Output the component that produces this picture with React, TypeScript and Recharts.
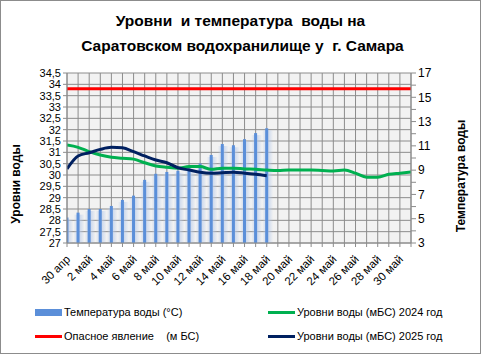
import { ComposedChart, Bar, Line, XAxis, YAxis, CartesianGrid } from 'recharts';

const dates = [
  '30 апр', '1 май', '2 май', '3 май', '4 май', '5 май', '6 май', '7 май',
  '8 май', '9 май', '10 май', '11 май', '12 май', '13 май', '14 май', '15 май',
  '16 май', '17 май', '18 май', '19 май', '20 май', '21 май', '22 май', '23 май',
  '24 май', '25 май', '26 май', '27 май', '28 май', '29 май', '30 май', '31 май',
];

// температура воды, °С (правая ось)
const temperature = [
  5.1, 5.5, 5.8, 5.8, 6.05, 6.55, 6.9, 8.2, 8.7, 8.85, 8.95, 9.15, 9.55, 10.25,
  11.15, 11.05, 11.55, 12.05, 12.45,
];

// уровни воды, мБС
const levels2024 = [
  31.32, 31.22, 31.03, 30.88, 30.78, 30.74, 30.7, 30.54, 30.4, 30.34, 30.3,
  30.37, 30.37, 30.25, 30.3, 30.3, 30.27, 30.25, 30.22, 30.2, 30.22, 30.22,
  30.22, 30.2, 30.18, 30.22, 30.08, 29.9, 29.9, 30.03, 30.08, 30.13,
];
const levels2025 = [
  30.27, 30.84, 30.98, 31.13, 31.22, 31.2, 31.03, 30.84, 30.66, 30.54, 30.32,
  30.22, 30.12, 30.08, 30.1, 30.12, 30.08, 30.03, 29.97,
];
const dangerLevel = 33.8;

const levelTicks = [27, 27.5, 28, 28.5, 29, 29.5, 30, 30.5, 31, 31.5, 32, 32.5, 33, 33.5, 34, 34.5];
const tempTicks = [3, 4, 5, 6, 7, 8, 9, 10, 11, 12, 13, 14, 15, 16, 17];

const data = dates.map((date, i) => ({
  i,
  date,
  temp: temperature[i] ?? null,
  l2024: levels2024[i] ?? null,
  l2025: levels2025[i] ?? null,
  danger: dangerLevel,
}));

const FONT = '"Liberation Sans", Arial, sans-serif';

function DateTick({ x, y, payload }: any) {
  if (payload.value % 2 !== 0) return <g />;
  const tx = x + 4;
  const ty = y + 11;
  return (
    <text x={tx} y={ty} transform={`rotate(-45 ${tx} ${ty})`} textAnchor="end" fontSize={11.5} fill="#000" fontFamily={FONT}>
      {dates[payload.value]}
    </text>
  );
}

function GlowBar(props: any) {
  const { x, y, width, height } = props;
  if (!height || height <= 0) return <g />;
  return (
    <g>
      <rect x={x - 3} y={y + 2} width={width + 8} height={height - 2} fill="url(#barGlow)" />
      <rect x={x} y={y} width={width} height={height} fill="#5b8fd9" />
    </g>
  );
}

function LegendItem({ color, bar, text }: { color: string; bar?: boolean; text: string }) {
  return (
    <div style={{ display: 'flex', alignItems: 'center' }}>
      <div style={{ width: 27, height: bar ? 7 : 3, background: color, marginRight: 2 }} />
      <span style={{ whiteSpace: 'pre' }}>{text}</span>
    </div>
  );
}

export default function App() {
  return (
    <div style={{ position: 'absolute', left: 0, top: 0, width: 481, height: 354, background: '#fff', fontFamily: FONT }}>
      <div style={{ position: 'absolute', left: 0, top: 8, width: 481, textAlign: 'center', fontWeight: 'bold', fontSize: 15.5, lineHeight: '25px' }}>
        <div style={{ whiteSpace: 'pre' }}>{'Уровни  и температура  воды на'}</div>
        <div style={{ whiteSpace: 'pre', paddingLeft: 4 }}>{'Саратовском водохранилище у  г. Самара'}</div>
      </div>

      <ComposedChart
        width={481}
        height={354}
        data={data}
        margin={{ top: 73, right: 0, left: 0, bottom: 51 }}
        style={{ position: 'absolute', left: 0, top: 0 }}
      >
        <defs>
          <linearGradient id="barGlow" x1="0" y1="0" x2="1" y2="0">
            <stop offset="0%" stopColor="#b8cbea" stopOpacity={0} />
            <stop offset="45%" stopColor="#b8cbea" stopOpacity={0.8} />
            <stop offset="100%" stopColor="#b8cbea" stopOpacity={0} />
          </linearGradient>
        </defs>
        <CartesianGrid yAxisId="l" stroke="#8c8c8c" fill="#f2f2f2" strokeWidth={1} />
        <XAxis
          dataKey="i"
          type="number"
          domain={[0, 31]}
          ticks={dates.map((_, i) => i)}
          interval={0}
          height={60}
          tick={<DateTick />}
          tickSize={4}
          stroke="#8c8c8c"
          allowDataOverflow
        />
        <YAxis
          yAxisId="l"
          domain={[27, 34.5]}
          ticks={levelTicks}
          interval={0}
          width={67}
          tickSize={4}
          stroke="#8c8c8c"
          tick={{ fill: '#000', fontSize: 11, fontFamily: FONT }}
          tickFormatter={(v: number) => String(v).replace('.', ',')}
        />
        <YAxis
          yAxisId="t"
          orientation="right"
          domain={[3, 17]}
          ticks={tempTicks}
          interval={0}
          width={70}
          tickSize={5}
          stroke="#8c8c8c"
          tick={{ fill: '#000', fontSize: 12, fontFamily: FONT }}
          tickFormatter={(v: number) => (v % 2 === 1 ? String(v) : '')}
        />
        <Bar yAxisId="t" dataKey="temp" barSize={3} shape={<GlowBar />} isAnimationActive={false} />
        <Line yAxisId="l" dataKey="danger" stroke="#ff0000" strokeWidth={3} dot={false} isAnimationActive={false} />
        <Line yAxisId="l" type="monotone" dataKey="l2024" stroke="#00b050" strokeWidth={3} dot={false} isAnimationActive={false} />
        <Line yAxisId="l" type="monotone" dataKey="l2025" stroke="#002060" strokeWidth={3} dot={false} isAnimationActive={false} />
      </ComposedChart>

      <div style={{ position: 'absolute', left: 16, top: 184, transform: 'translate(-50%, -50%) rotate(-90deg)', fontWeight: 'bold', fontSize: 12, whiteSpace: 'nowrap' }}>
        Уровни воды
      </div>
      <div style={{ position: 'absolute', left: 461, top: 176, transform: 'translate(-50%, -50%) rotate(-90deg)', fontWeight: 'bold', fontSize: 12, whiteSpace: 'nowrap' }}>
        Температура воды
      </div>

      <div style={{ position: 'absolute', left: 35, top: 304, fontSize: 11, color: '#000', lineHeight: '16px' }}>
        <LegendItem color="#5b8fd9" bar text="Температура воды (°С)" />
        <div style={{ height: 8 }} />
        <LegendItem color="#ff0000" text={'Опасное явление    (м БС)'} />
      </div>
      <div style={{ position: 'absolute', left: 268, top: 304, fontSize: 11, color: '#000', lineHeight: '16px' }}>
        <LegendItem color="#00b050" text="Уровни воды (мБС) 2024 год" />
        <div style={{ height: 8 }} />
        <LegendItem color="#002060" text="Уровни воды (мБС) 2025 год" />
      </div>

      <div style={{ position: 'absolute', left: 0, top: 0, width: 481, height: 354, boxSizing: 'border-box', border: '1px solid #8c8c8c', pointerEvents: 'none' }} />
    </div>
  );
}
